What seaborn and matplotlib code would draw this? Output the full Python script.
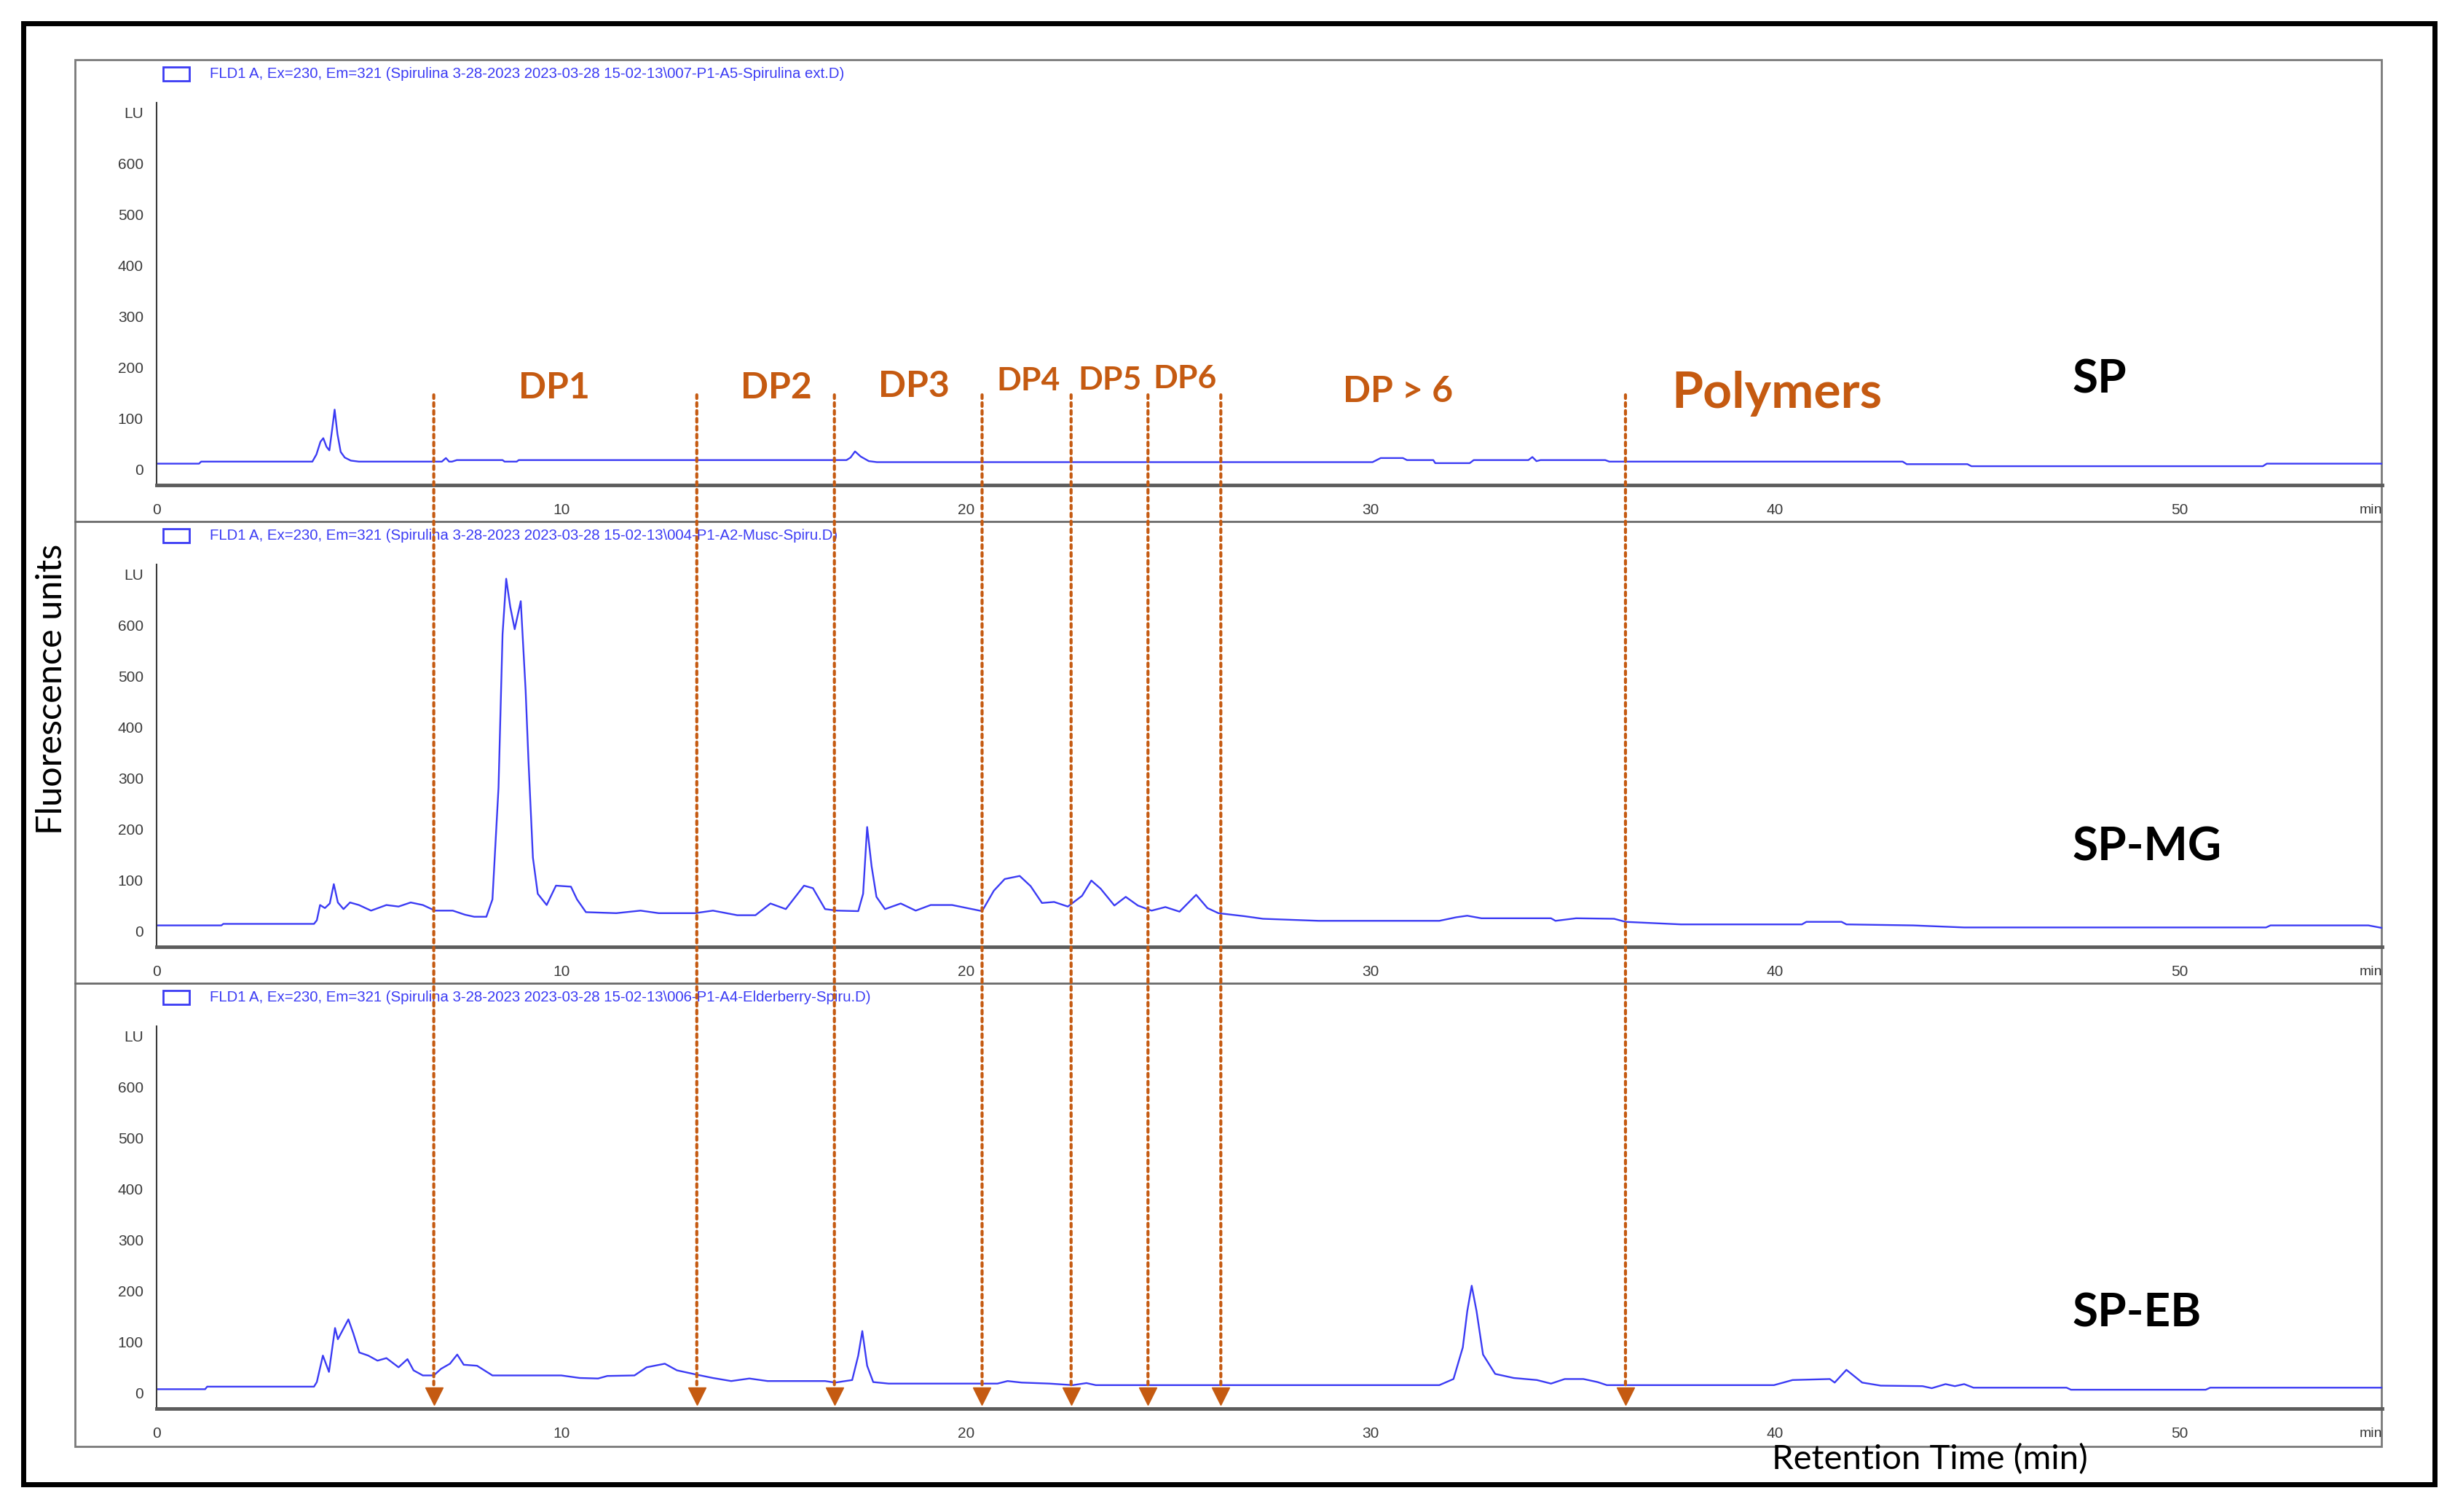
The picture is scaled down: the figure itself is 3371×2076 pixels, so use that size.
import matplotlib
matplotlib.use("Agg")
import matplotlib.pyplot as plt
import matplotlib.transforms as mtransforms
from matplotlib.patches import Rectangle, ConnectionPatch
from matplotlib.lines import Line2D
from matplotlib.ticker import MultipleLocator
import pandas as pd
import seaborn as sns

sns.set_style("white")
plt.rcParams["font.family"] = ["Lato", "DejaVu Sans"]

# ---------------- data ----------------
sp_points = [(0, 12), (1.05, 12), (1.1, 16), (3.85, 16), (3.95, 30), (4.05, 55), (4.12, 62),
             (4.2, 45), (4.27, 38), (4.34, 80), (4.4, 118), (4.47, 70), (4.55, 35), (4.65, 24),
             (4.8, 18), (5.0, 16), (7.05, 16), (7.15, 23), (7.23, 16), (7.3, 16), (7.42, 19),
             (8.55, 19), (8.6, 16), (8.9, 16), (8.95, 19), (17.05, 19), (17.15, 24), (17.26, 36),
             (17.4, 26), (17.6, 17), (17.8, 15), (30.05, 15), (30.25, 23), (30.8, 23), (30.9, 19),
             (31.55, 19), (31.6, 13), (32.45, 13), (32.55, 19), (33.9, 19), (34.0, 25), (34.1, 17),
             (34.2, 19), (35.8, 19), (35.9, 16), (43.15, 16), (43.25, 11), (44.75, 11), (44.85, 7),
             (52.05, 7), (52.15, 12), (55, 12)]

mg_points = [(0, 12), (1.6, 12), (1.65, 15), (3.89, 15), (3.96, 22), (4.04, 52), (4.16, 46),
             (4.28, 55), (4.38, 93), (4.48, 57), (4.62, 44), (4.78, 57), (5.0, 52), (5.3, 41),
             (5.68, 52), (5.98, 49), (6.28, 57), (6.58, 52), (6.88, 41), (7.32, 41), (7.62, 33),
             (7.85, 29), (8.15, 29), (8.3, 63), (8.45, 282), (8.55, 583), (8.64, 692), (8.74, 637),
             (8.85, 593), (9.0, 648), (9.12, 473), (9.19, 336), (9.3, 145), (9.42, 74), (9.64, 52),
             (9.87, 90), (10.24, 88), (10.39, 63), (10.61, 38), (11.36, 36), (11.96, 41), (12.41, 36),
             (13.3, 36), (13.75, 41), (14.35, 32), (14.8, 32), (15.17, 55), (15.55, 44), (16.0, 90),
             (16.22, 85), (16.52, 44), (16.82, 41), (17.34, 40), (17.46, 74), (17.56, 205), (17.67, 128),
             (17.79, 68), (18.0, 44), (18.39, 55), (18.76, 41), (19.13, 52), (19.66, 52), (20.4, 40),
             (20.69, 80), (20.96, 103), (21.33, 109), (21.6, 89), (21.88, 56), (22.18, 58), (22.52, 49),
             (22.87, 70), (23.1, 100), (23.33, 84), (23.67, 51), (23.95, 68), (24.25, 51), (24.59, 41),
             (24.93, 48), (25.28, 39), (25.69, 72), (25.97, 46), (26.24, 36), (26.89, 30), (27.34, 25),
             (28.72, 21), (31.7, 21), (32.12, 28), (32.39, 31), (32.74, 26), (34.46, 26), (34.57, 21),
             (35.08, 26), (36.02, 25), (36.3, 19), (37.67, 14), (40.66, 14), (40.77, 19), (41.64, 19),
             (41.76, 14), (43.41, 12), (44.67, 8), (52.13, 8), (52.24, 12), (54.66, 12), (55, 7)]

eb_points = [(0, 8), (1.2, 8), (1.25, 13), (3.89, 13), (3.96, 22), (4.11, 74), (4.26, 42),
             (4.41, 128), (4.48, 106), (4.74, 145), (4.86, 118), (5.01, 80), (5.23, 74), (5.46, 64),
             (5.68, 69), (5.98, 51), (6.2, 67), (6.35, 45), (6.58, 35), (6.85, 35), (7.03, 48),
             (7.25, 58), (7.43, 76), (7.59, 56), (7.92, 54), (8.3, 35), (10.0, 35), (10.46, 30),
             (10.91, 29), (11.14, 34), (11.81, 35), (12.11, 51), (12.56, 58), (12.86, 45), (13.38, 36),
             (13.75, 30), (14.2, 24), (14.65, 29), (15.1, 24), (16.52, 24), (16.77, 21), (17.19, 26),
             (17.34, 74), (17.44, 122), (17.56, 54), (17.71, 22), (18.09, 19), (20.78, 19), (21.03, 24),
             (21.38, 21), (22.07, 19), (22.64, 16), (22.98, 20), (23.21, 16), (31.7, 16), (32.05, 28),
             (32.28, 90), (32.39, 161), (32.5, 211), (32.62, 161), (32.78, 76), (33.08, 38), (33.54, 30),
             (34.11, 26), (34.46, 19), (34.8, 28), (35.26, 28), (35.61, 22), (35.84, 16), (39.97, 16),
             (40.43, 26), (41.35, 28), (41.47, 21), (41.76, 46), (42.15, 21), (42.61, 15), (43.64, 14),
             (43.87, 10), (44.21, 18), (44.44, 14), (44.67, 18), (44.9, 11), (47.2, 11), (47.31, 7),
             (50.64, 7), (50.75, 11), (55, 11)]

sample_names = ["SP", "SP-MG", "SP-EB"]
header_texts = [
    r"FLD1 A, Ex=230, Em=321 (Spirulina 3-28-2023 2023-03-28 15-02-13\007-P1-A5-Spirulina ext.D)",
    r"FLD1 A, Ex=230, Em=321 (Spirulina 3-28-2023 2023-03-28 15-02-13\004-P1-A2-Musc-Spiru.D)",
    r"FLD1 A, Ex=230, Em=321 (Spirulina 3-28-2023 2023-03-28 15-02-13\006-P1-A4-Elderberry-Spiru.D)",
]
fraction_bounds = [6.85, 13.35, 16.75, 20.4, 22.6, 24.5, 26.3, 36.3]
fraction_labels = ["DP1", "DP2", "DP3", "DP4", "DP5", "DP6", "DP > 6", "Polymers"]
fraction_label_x = [9.83, 15.32, 18.72, 21.55, 23.56, 25.42, 30.68, 40.04]
y_tick_values = [0, 100, 200, 300, 400, 500, 600, 700]
y_tick_labels = ["0", "100", "200", "300", "400", "500", "600", "LU"]
x_tick_values = [0, 10, 20, 30, 40, 50]

# ---------------- styling ----------------
BLUE = "#3b3bf4"
ORANGE = "#c55a11"
GRAY = "#3a3a3a"
NARROW = ["Liberation Sans", "DejaVu Sans"]
W, H = 3371, 2076

fig = plt.figure(figsize=(W / 100, H / 100), dpi=100)
fig.patch.set_facecolor("white")

def fx(px):
    return px / W

def fy(py):
    return 1 - py / H

# outer border & inner frame
fig.add_artist(Rectangle((fx(32), fy(2038)), fx(3343) - fx(32), fy(32) - fy(2038),
                         transform=fig.transFigure, fill=False, ec="black", lw=5, zorder=0))
fig.add_artist(Rectangle((fx(103), fy(1986)), fx(3270) - fx(103), fy(82) - fy(1986),
                         transform=fig.transFigure, fill=False, ec="#7a7a7a", lw=2, zorder=0))
for sep in (716, 1350):
    fig.add_artist(Line2D([fx(103), fx(3270)], [fy(sep), fy(sep)], transform=fig.transFigure,
                          color="#6a6a6a", lw=2, zorder=0))

left, right = fx(215), fx(3271)
bottoms_px = [666, 1300, 1934]
height = 525 / H

series = [sp_points, mg_points, eb_points]
label_baselines = [150, 139, 130]
axes = []
for i, pts in enumerate(series):
    ax = fig.add_axes([left, fy(bottoms_px[i]), right - left, height])
    df = pd.DataFrame(pts, columns=["time", "signal"])
    sns.lineplot(data=df, x="time", y="signal", ax=ax, color=BLUE, lw=1.7,
                 estimator=None, sort=False, legend=False)
    ax.set_xlim(0, 55)
    ax.set_ylim(-30, 720)
    ax.set_xlabel("")
    ax.set_ylabel("")
    ax.set_facecolor("none")
    for s in ("top", "right"):
        ax.spines[s].set_visible(False)
    ax.spines["left"].set_color(GRAY)
    ax.spines["left"].set_linewidth(1.5)
    ax.spines["bottom"].set_color("#5c5c5c")
    ax.spines["bottom"].set_linewidth(3.5)

    ax.set_yticks(y_tick_values)
    ax.set_yticklabels(y_tick_labels)
    ax.yaxis.set_minor_locator(MultipleLocator(10))
    ax.set_xticks(x_tick_values)
    ax.set_xticklabels([str(v) for v in x_tick_values])
    ax.xaxis.set_minor_locator(MultipleLocator(2))
    ax.tick_params(axis="y", which="major", direction="out", length=8, width=1.3,
                   color=GRAY, labelcolor=GRAY, labelsize=15, pad=5)
    ax.tick_params(axis="y", which="minor", direction="out", length=3.5, width=1.0, color=GRAY)
    ax.tick_params(axis="x", which="major", direction="out", length=10, width=1.3,
                   color=GRAY, labelcolor=GRAY, labelsize=15, pad=8)
    ax.tick_params(axis="x", which="minor", direction="out", length=5, width=1.2, color=GRAY)
    for lab in ax.get_xticklabels() + ax.get_yticklabels():
        lab.set_family(NARROW)
    ax.text(1.0, -0.066, "min", transform=ax.transAxes, ha="right", va="center",
            fontsize=14, color=GRAY, family=NARROW)

    # legend-like header
    trans = mtransforms.blended_transform_factory(ax.transData, ax.transAxes)
    ax.add_patch(Rectangle((0.16, 1.057), 0.65, 0.036, transform=trans, fill=False,
                           ec=BLUE, lw=2, clip_on=False))
    ax.text(1.31, 1.076, header_texts[i], transform=trans, ha="left", va="center",
            fontsize=14.7, color=BLUE, family=NARROW, clip_on=False)

    ax.text(47.34, label_baselines[i], sample_names[i], ha="left", va="baseline",
            fontsize=46, fontweight="bold", color="black")
    axes.append(ax)

ax1, ax2, ax3 = axes

# fraction labels in top panel
label_sizes = [36, 36, 36, 32, 32, 32, 36, 50]
label_y = [140, 140, 143, 155, 157, 160, 133, 121]
for x, lab, fs, yb in zip(fraction_label_x, fraction_labels, label_sizes, label_y):
    ax1.text(x, yb, lab, ha="center", va="baseline", fontsize=fs, fontweight="bold",
             color=ORANGE)

# dotted boundary lines spanning all panels, with arrowheads at the bottom
for xb in fraction_bounds:
    con = ConnectionPatch(xyA=(xb, 147), coordsA=ax1.transData,
                          xyB=(xb, 4), coordsB=ax3.transData,
                          color=ORANGE, lw=3, linestyle=(0, (1.2, 1.4)), zorder=10)
    fig.add_artist(con)
ax3.plot(fraction_bounds, [-6] * len(fraction_bounds), linestyle="none", marker="v",
         ms=17, color=ORANGE, clip_on=False, zorder=11)

fig.text(fx(71), fy(946), "Fluorescence units", rotation=90, ha="center", va="center",
         fontsize=35, color="black")
fig.text(fx(2650), fy(2004), "Retention Time (min)", ha="center", va="center",
         fontsize=34, color="black")

fig.savefig("out.png", dpi=100, facecolor="white")
